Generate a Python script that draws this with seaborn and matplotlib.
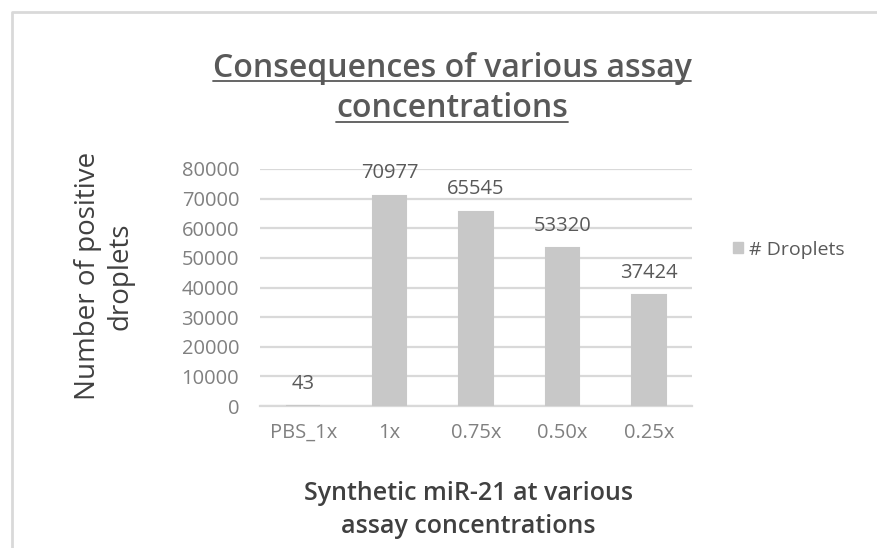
import matplotlib
matplotlib.use("Agg")
import matplotlib.pyplot as plt
import seaborn as sns
import pandas as pd
from matplotlib.patches import Rectangle

categories = ["PBS_1x", "1x", "0.75x", "0.50x", "0.25x"]
droplets = [43, 70977, 65545, 53320, 37424]
y_ticks = [0, 10000, 20000, 30000, 40000, 50000, 60000, 70000, 80000]

sns.set_theme(style="white")
plt.rcParams["font.family"] = ["Open Sans", "DejaVu Sans"]

BAR = "#c8c8c8"
GRID = "#d9d9d9"
TICK = "#808080"
LABEL = "#595959"
DARK = "#404040"

df = pd.DataFrame({"cond": categories, "n": droplets})

fig = plt.figure(figsize=(8.77, 5.48), dpi=100)
W, H = 877, 548


def fx(px):
    return px / W


def fy(py):
    return 1 - py / H


ax = fig.add_axes([fx(260), fy(406), 432 / W, 237 / H])

sns.barplot(data=df, x="cond", y="n", color=BAR, width=0.39, ax=ax,
            saturation=1, zorder=3, edgecolor=BAR, linewidth=1.5)

ax.set_ylim(0, 80000)
ax.set_xlim(-0.5, len(categories) - 0.5)
ax.set_yticks(y_ticks)
ax.set_yticklabels([str(v) for v in y_ticks])
ax.yaxis.grid(True, color=GRID, linewidth=1.6, zorder=0)
ax.set_axisbelow(True)
for s in ["top", "right", "left"]:
    ax.spines[s].set_visible(False)
ax.spines["bottom"].set_color(GRID)
ax.spines["bottom"].set_linewidth(1.6)
ax.spines["bottom"].set_zorder(1)
ax.tick_params(axis="both", length=0, colors=TICK, labelsize=14.5)
ax.tick_params(axis="y", pad=15)
ax.tick_params(axis="x", pad=12)
ax.set_xlabel("")
ax.set_ylabel("")

for i, v in enumerate(droplets):
    ax.annotate(str(v), (i, v), xytext=(0, 12.5), textcoords="offset points",
                ha="center", va="baseline", fontsize=14.5, color=LABEL)

# chart title, underlined
t1 = fig.text(fx(452), fy(77), "Consequences of various assay",
              ha="center", va="baseline", fontsize=23, color=LABEL,
              fontweight="semibold")
t2 = fig.text(fx(452), fy(117), "concentrations",
              ha="center", va="baseline", fontsize=23, color=LABEL,
              fontweight="semibold")

# axis titles
fig.text(fx(88), fy(276), "Number of positive", ha="center", va="center",
         rotation=90, fontsize=20, color=DARK)
fig.text(fx(121), fy(276), "droplets", ha="center", va="center",
         rotation=90, fontsize=20, color=DARK)
fig.text(fx(468), fy(500), "Synthetic miR-21 at various", ha="center",
         va="baseline", fontsize=18, color=DARK, fontweight="semibold")
fig.text(fx(468), fy(533), "assay concentrations", ha="center",
         va="baseline", fontsize=18, color=DARK, fontweight="semibold")

# legend
fig.add_artist(Rectangle((fx(733), fy(253)), 10 / W, 11 / H,
                         transform=fig.transFigure, color=BAR))
fig.text(fx(749), fy(255), "# Droplets", ha="left", va="baseline",
         fontsize=14, color=LABEL)

# chart area border
fig.add_artist(plt.Line2D([fx(12), fx(12), 1.0], [0.0, fy(12), fy(12)],
                          color=GRID, linewidth=2.0))

# underline the title lines along their rendered width
fig.canvas.draw()
renderer = fig.canvas.get_renderer()
for t, uy in ((t1, 81), (t2, 122)):
    bb = t.get_window_extent(renderer)
    fig.add_artist(plt.Line2D([bb.x0 / W, bb.x1 / W], [fy(uy), fy(uy)],
                              color=LABEL, linewidth=1.3))

fig.savefig("out.png", dpi=100)
